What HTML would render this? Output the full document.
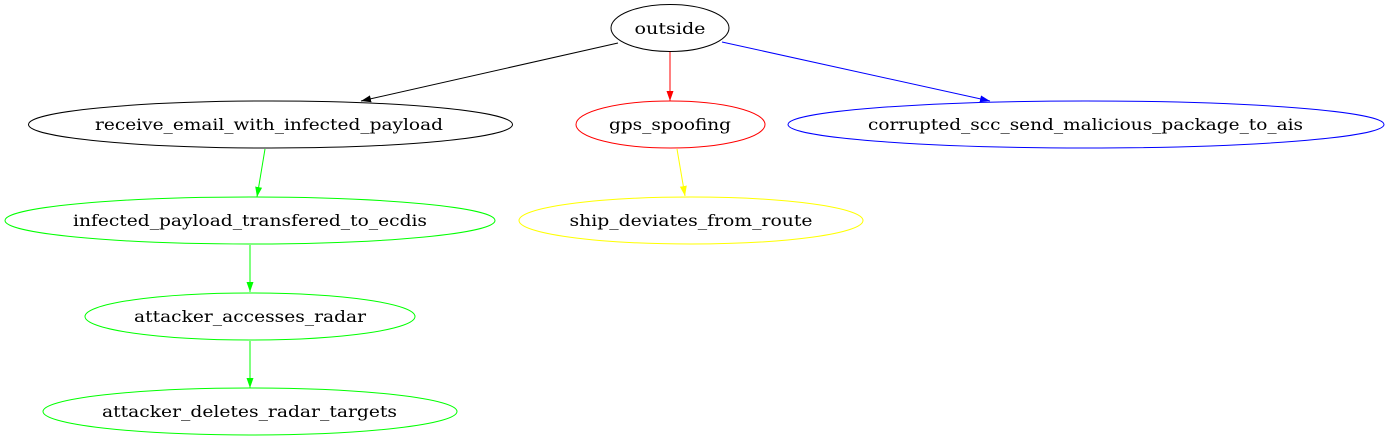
<!DOCTYPE html>
<html><head><meta charset="utf-8"><style>
html,body{margin:0;padding:0;background:#fff;}
svg{display:block;}
text{font-family:"DejaVu Serif","Liberation Serif",serif;font-size:16px;text-anchor:middle;fill:#000;}
</style></head><body>
<svg width="1390" height="443" viewBox="0 0 1390 443" xmlns="http://www.w3.org/2000/svg">
<defs>
<marker id="mk" markerWidth="10" markerHeight="8" refX="10" refY="3.5" orient="auto" markerUnits="userSpaceOnUse"><path d="M0,0 L10,3.5 L0,7 z" fill="#000"/></marker>
<marker id="mr" markerWidth="10" markerHeight="8" refX="10" refY="3.5" orient="auto" markerUnits="userSpaceOnUse"><path d="M0,0 L10,3.5 L0,7 z" fill="#f00"/></marker>
<marker id="mb" markerWidth="10" markerHeight="8" refX="10" refY="3.5" orient="auto" markerUnits="userSpaceOnUse"><path d="M0,0 L10,3.5 L0,7 z" fill="#00f"/></marker>
<marker id="mg" markerWidth="10" markerHeight="8" refX="10" refY="3.5" orient="auto" markerUnits="userSpaceOnUse"><path d="M0,0 L10,3.5 L0,7 z" fill="#0f0"/></marker>
<marker id="my" markerWidth="10" markerHeight="8" refX="10" refY="3.5" orient="auto" markerUnits="userSpaceOnUse"><path d="M0,0 L10,3.5 L0,7 z" fill="#ff0"/></marker>
</defs>
<g fill="none" stroke-width="1">
<line x1="618" y1="43" x2="361" y2="101" stroke="#000" marker-end="url(#mk)"/>
<line x1="670" y1="52" x2="670" y2="101" stroke="#f00" marker-end="url(#mr)"/>
<line x1="722" y1="42" x2="990" y2="101" stroke="#00f" marker-end="url(#mb)"/>
<line x1="265" y1="149" x2="257" y2="197" stroke="#0f0" marker-end="url(#mg)"/>
<line x1="677" y1="149" x2="685" y2="196" stroke="#ff0" marker-end="url(#my)"/>
<line x1="250" y1="245" x2="250" y2="292" stroke="#0f0" marker-end="url(#mg)"/>
<line x1="250" y1="341" x2="250" y2="388" stroke="#0f0" marker-end="url(#mg)"/>
<ellipse cx="670" cy="28" rx="59" ry="23.5" stroke="#000"/>
<ellipse cx="270.5" cy="124.5" rx="242" ry="23.5" stroke="#000"/>
<ellipse cx="670.5" cy="124.5" rx="94.5" ry="23.5" stroke="#f00"/>
<ellipse cx="1086" cy="124.5" rx="298" ry="23.5" stroke="#00f"/>
<ellipse cx="250" cy="220.5" rx="245" ry="23.5" stroke="#0f0"/>
<ellipse cx="691" cy="220.5" rx="172" ry="23.5" stroke="#ff0"/>
<ellipse cx="250" cy="316.5" rx="165" ry="23.5" stroke="#0f0"/>
<ellipse cx="250" cy="411.5" rx="207" ry="23.5" stroke="#0f0"/>
</g>
<text x="670" y="34" textLength="71" lengthAdjust="spacingAndGlyphs">outside</text>
<text x="269" y="130" textLength="348" lengthAdjust="spacingAndGlyphs">receive_email_with_infected_payload</text>
<text x="670" y="130" textLength="122" lengthAdjust="spacingAndGlyphs">gps_spoofing</text>
<text x="1085.5" y="130" textLength="435" lengthAdjust="spacingAndGlyphs">corrupted_scc_send_malicious_package_to_ais</text>
<text x="250" y="226" textLength="354" lengthAdjust="spacingAndGlyphs">infected_payload_transfered_to_ecdis</text>
<text x="691" y="226" textLength="243" lengthAdjust="spacingAndGlyphs">ship_deviates_from_route</text>
<text x="250" y="322" textLength="232" lengthAdjust="spacingAndGlyphs">attacker_accesses_radar</text>
<text x="249.5" y="417" textLength="295" lengthAdjust="spacingAndGlyphs">attacker_deletes_radar_targets</text>
</svg>
</body></html>
